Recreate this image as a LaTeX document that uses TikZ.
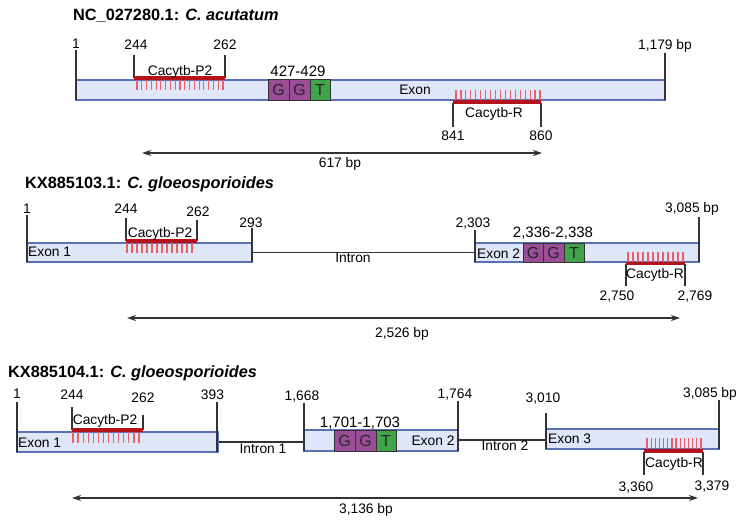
\documentclass[tikz,border=0pt]{standalone}
\usepackage{fontspec}
\setmainfont{Liberation Sans}
\usetikzlibrary{arrows.meta}
\definecolor{exfill}{HTML}{DFE6F8}
\definecolor{exdraw}{HTML}{5A72B5}
\definecolor{barred}{HTML}{B3141C}
\definecolor{hashred}{HTML}{E8606B}
\definecolor{gpur}{HTML}{9B4D98}
\definecolor{tgrn}{HTML}{43A34B}
\definecolor{ink}{HTML}{333333}
\newcommand\hashset[5]{\foreach \k in {0,...,#5}{\draw[hashline] ({#1+(#2-#1)*\k/#5},#3) -- ({#1+(#2-#1)*\k/#5},#4);}}
\tikzset{
  exonbox/.style={draw=exdraw, fill=exfill, line width=1.3pt},
  tickline/.style={draw=ink, line width=1.6pt},
  intronline/.style={draw=ink, line width=1.8pt},
  primerbar/.style={draw=barred, line width=3.5pt},
  hashline/.style={draw=hashred, line width=1.2pt},
  numlab/.style={font=\fontsize{13.8}{15}\selectfont, inner sep=0pt, anchor=base},
  sitelab/.style={font=\fontsize{15}{17}\selectfont, inner sep=0pt, anchor=base},
  titlelab/.style={font=\fontsize{16.3}{18}\selectfont\bfseries, inner sep=0pt, anchor=base west},
  basebox/.style={draw=ink, line width=0.9pt, inner sep=0pt, font=\fontsize{16}{18}\selectfont, text=black!85},
  gbox/.style={basebox, fill=gpur},
  tbox/.style={basebox, fill=tgrn},
  dimarrow/.style={draw=ink, line width=1.2pt, {Stealth[length=9pt,width=6pt]}-{Stealth[length=9pt,width=6pt]}}
}
\begin{document}
\begin{tikzpicture}[x=1pt,y=-1pt]
\useasboundingbox (0,0) rectangle (748,525);
\fill[white] (0,0) rectangle (748,525);

% ================= NC_027280.1 =================
\node[titlelab] (t1) at (73,20) {NC\_027280.1: \textit{C. acutatum}};
\draw[exonbox] (76,80) rectangle (665,100);
\node[numlab] (ex1) at (415,94) {Exon};
\draw[tickline] (76,50) -- (76,100);
\node[numlab] (a1) at (76,48.5) {1};
\draw[tickline] (134,55) -- (134,78);
\draw[tickline] (225,55) -- (225,78);
\node[numlab] (a244) at (136,49) {244};
\node[numlab] (a262) at (225,49) {262};
\draw[tickline] (665,53) -- (665,100);
\node[numlab] (a1179) at (665,49) {1,179 bp};
\hashset{137}{223}{80}{90}{18}
\draw[primerbar] (134,78) -- (225,78);
\node[numlab] (ap2) at (180,75) {Cacytb-P2};
\node[sitelab] (asite) at (298,76) {427-429};
\node[gbox, minimum width=21pt, minimum height=21pt] (ag1) at (278.5,89.5) {G};
\node[gbox, minimum width=21pt, minimum height=21pt] (ag2) at (299.5,89.5) {G};
\node[tbox, minimum width=20pt, minimum height=21pt] (at) at (320,89.5) {T};
\hashset{456}{540}{90}{100}{17}
\draw[primerbar] (453,102) -- (541,102);
\draw[tickline] (453,103) -- (453,127);
\draw[tickline] (541,103) -- (541,127);
\node[numlab] (ar) at (494,117) {Cacytb-R};
\node[numlab] (a841) at (453,140) {841};
\node[numlab] (a860) at (541,140) {860};
\coordinate (aL) at (142,153);
\coordinate (aR) at (542,153);
\draw[dimarrow] (aL) -- (aR);
\node[numlab] (alen) at (340,167) {617 bp};

% ================= KX885103.1 =================
\node[titlelab] (t2) at (25,188) {KX885103.1: \textit{C. gloeosporioides}};
\draw[intronline] (252,252.5) -- (475,252.5);
\node[numlab] (bin) at (353,262) {Intron};
\draw[exonbox] (27,243) rectangle (252,262);
\draw[exonbox] (475,243) rectangle (699,262);
\node[numlab, anchor=base west] (bex1) at (28,256) {Exon 1};
\node[numlab, anchor=base west] (bex2) at (477,258) {Exon 2};
\draw[tickline] (27,215) -- (27,262);
\node[numlab] (b1) at (27,213) {1};
\draw[tickline] (126,218) -- (126,241);
\draw[tickline] (197,220) -- (197,241);
\node[numlab] (b244) at (126,213) {244};
\node[numlab] (b262) at (198,216) {262};
\draw[tickline] (252,228) -- (252,262);
\node[numlab] (b293) at (251,227) {293};
\draw[tickline] (475,230) -- (475,262);
\node[numlab] (b2303) at (473,227) {2,303};
\draw[tickline] (699,217) -- (699,262);
\node[numlab] (b3085) at (692,212) {3,085 bp};
\hashset{127}{192}{243}{253}{13}
\draw[primerbar] (126,241) -- (197,241);
\node[numlab] (bp2) at (160,237) {Cacytb-P2};
\node[sitelab] (bsite) at (553,237) {2,336-2,338};
\node[gbox, minimum width=20pt, minimum height=19pt] (bg1) at (533,252.5) {G};
\node[gbox, minimum width=21pt, minimum height=19pt] (bg2) at (553.5,252.5) {G};
\node[tbox, minimum width=20pt, minimum height=19pt] (bt) at (574,252.5) {T};
\hashset{628}{683}{252}{262}{11}
\draw[primerbar] (626,263.5) -- (685,263.5);
\draw[tickline] (626,264) -- (626,286);
\draw[tickline] (685,264) -- (685,286);
\node[numlab] (br) at (655,278) {Cacytb-R};
\node[numlab] (b2750) at (617,300) {2,750};
\node[numlab] (b2769) at (695,300) {2,769};
\coordinate (bL) at (127,318);
\coordinate (bR) at (680,318);
\draw[dimarrow] (bL) -- (bR);
\node[numlab] (blen) at (402,337) {2,526 bp};

% ================= KX885104.1 =================
\node[titlelab] (t3) at (8,377) {KX885104.1: \textit{C. gloeosporioides}};
\draw[intronline] (218,442) -- (304,442);
\draw[intronline] (458,440) -- (546,440);
\node[numlab] (cin1) at (263,453) {Intron 1};
\node[numlab] (cin2) at (505,450) {Intron 2};
\draw[exonbox] (17,432) rectangle (218,452);
\draw[exonbox] (304,430) rectangle (458,451);
\draw[exonbox] (546,429) rectangle (719,449);
\node[numlab, anchor=base west] (cex1) at (18,447) {Exon 1};
\node[numlab] (cex2) at (433,445) {Exon 2};
\node[numlab, anchor=base west] (cex3) at (548,443) {Exon 3};
\draw[tickline] (17,402) -- (17,452);
\node[numlab] (c1) at (17,398) {1};
\draw[tickline] (72,407) -- (72,430);
\draw[tickline] (143,415) -- (143,430);
\node[numlab] (c244) at (72,399.5) {244};
\node[numlab] (c262) at (143,402) {262};
\draw[tickline] (217,402) -- (217,452);
\node[numlab] (c393) at (212.5,399.5) {393};
\draw[tickline] (304,403) -- (304,451);
\node[numlab] (c1668) at (302,400) {1,668};
\draw[tickline] (458,401) -- (458,451);
\node[numlab] (c1764) at (455,398.5) {1,764};
\draw[tickline] (546,413) -- (546,449);
\node[numlab] (c3010) at (543,402) {3,010};
\draw[tickline] (719,400) -- (719,449);
\node[numlab] (c3085) at (710,397) {3,085 bp};
\hashset{73}{139}{432}{443}{13}
\draw[primerbar] (72,430) -- (143,430);
\node[numlab] (cp2) at (105,424) {Cacytb-P2};
\node[sitelab] (csite) at (360,427) {1,701-1,703};
\node[gbox, minimum width=21pt, minimum height=21pt] (cg1) at (344.5,440.5) {G};
\node[gbox, minimum width=21pt, minimum height=21pt] (cg2) at (365.5,440.5) {G};
\node[tbox, minimum width=20pt, minimum height=21pt] (ct) at (386,440.5) {T};
\hashset{647}{701}{438}{449}{13}
\draw[primerbar] (644,451) -- (703,451);
\draw[tickline] (644,452) -- (644,475);
\draw[tickline] (703,452) -- (703,475);
\node[numlab] (cr) at (674,467) {Cacytb-R};
\node[numlab] (c3360) at (636,491) {3,360};
\node[numlab] (c3379) at (712,490) {3,379};
\coordinate (cL) at (72,498);
\coordinate (cR) at (698,498);
\draw[dimarrow] (cL) -- (cR);
\node[numlab] (clen) at (366,513) {3,136 bp};
\end{tikzpicture}
\end{document}
